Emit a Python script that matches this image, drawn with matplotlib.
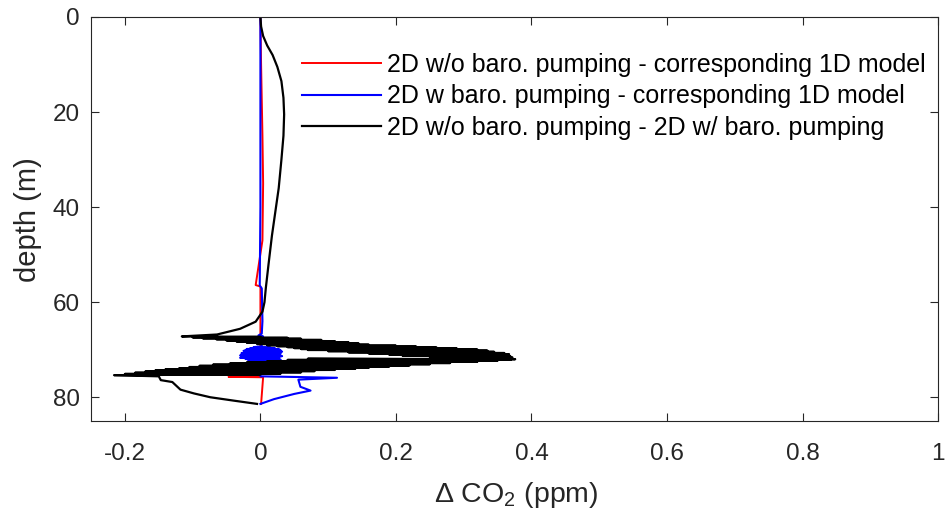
import matplotlib
matplotlib.use("Agg")
import matplotlib.pyplot as plt

plt.rcParams['font.family'] = ['Liberation Sans', 'DejaVu Sans']
plt.rcParams['mathtext.fontset'] = 'custom'
plt.rcParams['mathtext.rm'] = 'Liberation Sans'
plt.rcParams['mathtext.it'] = 'Liberation Sans:italic'

# 2D w/o baro. pumping - corresponding 1D model
red_x = [0.0, 0.001, 0.003, 0.004, 0.003, -0.007, 0.0, 0.0, -0.047, 0.004, 0.001]
red_d = [0.0, 10.0, 25.0, 35.0, 47.0, 56.4, 56.7, 75.5, 75.7, 75.8, 81.4]

# 2D w baro. pumping - corresponding 1D model
blue_x = [0.0, 0.0, 0.0, -0.001, 0.002, 0.003, 0.002, -0.003, 0.004, 0.001, 0.002,
          -0.010, 0.015, -0.015, 0.022, -0.020, 0.028, -0.022, 0.030, -0.025, 0.032,
          -0.020, 0.025, -0.028, 0.030, -0.025, 0.020, -0.030, 0.032, -0.025, 0.028,
          -0.030, 0.025, -0.022, 0.030, -0.018, 0.020, -0.010, 0.012, 0.0, 0.0,
          0.0, 0.113, 0.056, 0.059, 0.074, 0.05, 0.02, 0.0]
blue_d = [0.0, 20.0, 40.0, 56.5, 57.1, 64.0, 66.6, 67.0, 67.2, 67.5, 69.3,
          69.45, 69.55, 69.65, 69.75, 69.85, 69.95, 70.05, 70.15, 70.25, 70.40,
          70.50, 70.60, 70.75, 70.85, 70.95, 71.10, 71.20, 71.35, 71.45, 71.60,
          71.70, 71.85, 71.95, 72.10, 72.20, 72.35, 72.50, 72.65, 72.80, 73.0,
          75.6, 75.9, 76.3, 77.8, 78.6, 79.3, 80.4, 81.4]

# 2D w/o baro. pumping - 2D w/ baro. pumping
black_x = [0.0, 0.001, 0.004, 0.010, 0.018, 0.025, 0.031, 0.034, 0.035, 0.034,
           0.031, 0.027, 0.022, 0.017, 0.012, 0.008, 0.006, 0.003, -0.007,
           -0.030, -0.064,
           # upper arm of the oscillating band
           -0.116, 0.000, -0.100, 0.040, -0.085, 0.060, -0.065, 0.090, -0.050, 0.110,
           -0.035, 0.130, -0.020, 0.145, -0.005, 0.160, 0.010, 0.200, 0.025, 0.230,
           0.040, 0.260, 0.050, 0.290, 0.060, 0.320, 0.070, 0.335, 0.100, 0.345,
           0.130, 0.360, 0.160, 0.367, 0.190, 0.350, 0.210, 0.369, 0.250, 0.372,
           0.290, 0.376,
           # lower arm
           0.070, 0.370, 0.040, 0.350, 0.010, 0.320, -0.020, 0.280, -0.045, 0.250,
           -0.070, 0.220, -0.090, 0.190, -0.105, 0.160, -0.120, 0.140, -0.140, 0.110,
           -0.155, 0.080, -0.170, 0.060, -0.185, 0.030, -0.200, 0.000, -0.216,
           # tail
           -0.150, -0.147, -0.130, -0.118, -0.098, -0.074, -0.040, -0.005]
black_d = [0.0, 2.0, 4.0, 6.0, 8.0, 10.5, 13.5, 17.0, 20.5, 25.0,
           30.0, 36.0, 41.0, 46.0, 52.0, 57.0, 60.0, 62.0, 64.1,
           65.6, 66.8,
           67.20, 67.30, 67.40, 67.50, 67.60, 67.70, 67.80, 67.95, 68.05, 68.20,
           68.30, 68.45, 68.55, 68.70, 68.80, 68.95, 69.05, 69.15, 69.25, 69.35,
           69.45, 69.55, 69.65, 69.75, 69.85, 69.95, 70.05, 70.20, 70.30, 70.45,
           70.55, 70.70, 70.80, 70.95, 71.05, 71.20, 71.30, 71.40, 71.55, 71.65,
           71.80, 72.00,
           71.90, 72.05, 72.15, 72.30, 72.40, 72.55, 72.65, 72.80, 72.90, 73.05,
           73.15, 73.30, 73.40, 73.55, 73.65, 73.80, 73.90, 74.00, 74.10, 74.25,
           74.35, 74.50, 74.60, 74.75, 74.85, 75.00, 75.10, 75.20, 75.35,
           75.6, 76.4, 76.8, 78.4, 79.2, 80.0, 80.7, 81.4]

labels = ['2D w/o baro. pumping - corresponding 1D model',
          '2D w baro. pumping - corresponding 1D model',
          '2D w/o baro. pumping - 2D w/ baro. pumping']

fig = plt.figure(figsize=(9.48, 5.15), dpi=100)
ax = fig.add_axes([0.096, 0.1825, 0.8935, 0.7845])

ax.plot(red_x, red_d, color='red', lw=1.4, label=labels[0])
ax.plot(blue_x, blue_d, color='blue', lw=1.5, label=labels[1])
ax.plot(black_x, black_d, color='black', lw=1.6, label=labels[2])

ax.set_xlim(-0.25, 1.0)
ax.set_ylim(85, 0)
ax.set_xticks([-0.2, 0, 0.2, 0.4, 0.6, 0.8, 1])
ax.set_xticklabels(['-0.2', '0', '0.2', '0.4', '0.6', '0.8', '1'])
ax.set_yticks([0, 20, 40, 60, 80])
ax.tick_params(direction='in', top=True, right=True, length=6, width=0.8,
               colors='#262626', labelsize=17.5)
ax.tick_params(axis='x', pad=16)
ax.tick_params(axis='y', pad=8)
for s in ax.spines.values():
    s.set_color('#262626')
    s.set_linewidth(0.8)

ax.set_xlabel(r'$\Delta$ CO$_2$ (ppm)', fontsize=20.5, color='#262626')
ax.set_ylabel('depth (m)', fontsize=21, color='#262626')
ax.xaxis.set_label_coords(0.502, -0.146)
ax.yaxis.set_label_coords(-0.058, 0.4975)

ax.legend(loc='upper left', bbox_to_anchor=(302 / 948, 0.898),
          bbox_transform=fig.transFigure, frameon=False, fontsize=18,
          handlelength=3.15, handletextpad=0.25, labelspacing=0.31,
          borderpad=0, borderaxespad=0)

fig.savefig('out.png', dpi=100)
